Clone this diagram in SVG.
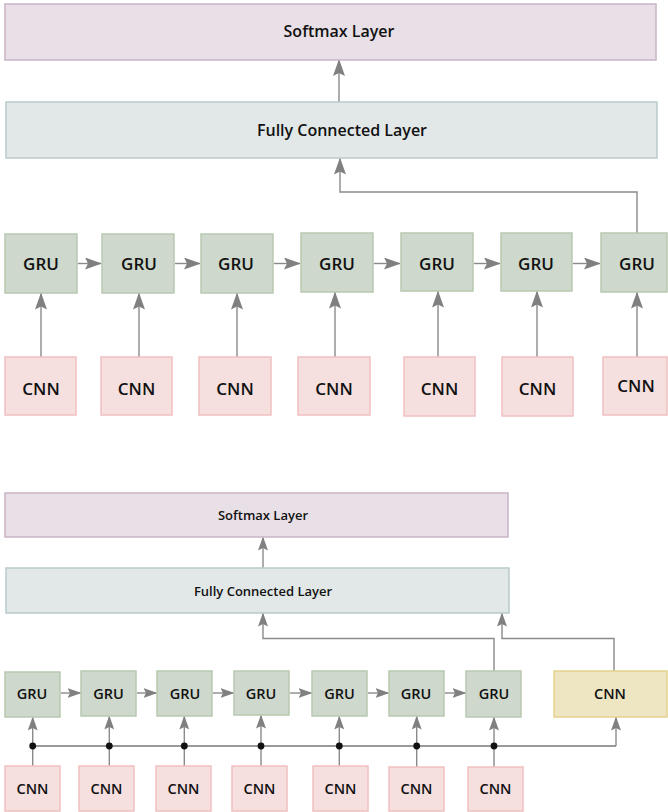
<svg xmlns="http://www.w3.org/2000/svg" width="668" height="812" viewBox="0 0 668 812">
<style>
text{font-family:"Open Sans","Noto Sans","Liberation Sans",sans-serif;font-weight:600;fill:#111;text-anchor:middle;dominant-baseline:central}
.sm{fill:#e8e0e6;stroke:#c9b4c5;stroke-width:1.5}
.fc{fill:#e2e8e8;stroke:#b9cacc;stroke-width:1.5}
.gru{fill:#cfd8cc;stroke:#b8c9b1;stroke-width:1.5}
.cnn{fill:#f5dfdf;stroke:#f0c0c1;stroke-width:1.5}
.ycnn{fill:#eee6c3;stroke:#e5d28c;stroke-width:1.5}
.t1{font-size:16px}.t2{font-size:17px}.t3{font-size:13px}.t4{font-size:14.5px}
.c{fill:none;stroke:#8a8a8a;stroke-width:1.4}
.a1{marker-end:url(#ah1)}.a2{marker-end:url(#ah2)}
.bus{fill:none;stroke:#777;stroke-width:1.4}
</style>
<defs>
<marker id="ah1" viewBox="0 0 17 12" refX="16" refY="6" markerWidth="17" markerHeight="12" markerUnits="userSpaceOnUse" orient="auto"><path d="M0,0 L17,6 L0,12 L3,6 z" fill="#808080"/></marker>
<marker id="ah2" viewBox="0 0 14 10" refX="13" refY="5" markerWidth="14" markerHeight="10" markerUnits="userSpaceOnUse" orient="auto"><path d="M0,0 L14,5 L0,10 L2.5,5 z" fill="#808080"/></marker>
</defs>

<g id="connectors">
<path class="c a1" d="M339,102 V60"/>
<path class="c a1" d="M637,233 V192 H340 V158.5"/>
<path class="c a1" d="M78,263.5 H101"/>
<path class="c a1" d="M175,263.5 H200"/>
<path class="c a1" d="M274,263.5 H300"/>
<path class="c a1" d="M374,263.5 H400"/>
<path class="c a1" d="M474,263.5 H500"/>
<path class="c a1" d="M573,263.5 H600"/>
<path class="c a1" d="M41,357 V293.5"/>
<path class="c a1" d="M139,357 V293.5"/>
<path class="c a1" d="M237,357 V293.5"/>
<path class="c a1" d="M335,357 V292.5"/>
<path class="c a1" d="M438,357 V291.5"/>
<path class="c a1" d="M537,357 V291.5"/>
<path class="c a1" d="M637,357 V292.5"/>

<path class="c a2" d="M263,568 V537.5"/>
<path class="c a2" d="M494,671 V638.5 H263 V613.5"/>
<path class="c a2" d="M614,671 V638.5 H502 V613.5"/>
<path class="c a2" d="M61,693 H80.5"/>
<path class="c a2" d="M137,693 H156.5"/>
<path class="c a2" d="M213,693 H233.5"/>
<path class="c a2" d="M290,693 H311.5"/>
<path class="c a2" d="M368,693 H388.5"/>
<path class="c a2" d="M445,693 H465.5"/>
<path class="bus" d="M32.7,746 H616"/>
<path class="c a2" d="M616,746 V717.5"/>
<path class="c a2" d="M32.7,766 V717.5"/>
<path class="c a2" d="M109.3,766 V716.5"/>
<path class="c a2" d="M184.3,766 V716.5"/>
<path class="c a2" d="M261,766 V715.5"/>
<path class="c a2" d="M339.3,766 V716.5"/>
<path class="c a2" d="M416.7,767 V716.5"/>
<path class="c a2" d="M494,767 V717.5"/>
<g fill="#111">
<circle cx="32.7" cy="746" r="3.4"/>
<circle cx="109.3" cy="746" r="3.4"/>
<circle cx="184.3" cy="746" r="3.4"/>
<circle cx="261" cy="746" r="3.4"/>
<circle cx="339.3" cy="746" r="3.4"/>
<circle cx="416.7" cy="746" r="3.4"/>
<circle cx="494" cy="746" r="3.4"/>
</g>
</g>

<g id="softmax1"><rect class="sm" x="5" y="4" width="651" height="56"/><text class="t1" x="339" y="31">Softmax Layer</text></g>
<g id="fc1"><rect class="fc" x="6" y="102" width="651" height="56"/><text class="t1" x="342" y="130">Fully Connected Layer</text></g>

<g id="gru1"><rect class="gru" x="5" y="234" width="72" height="59"/><text class="t2" x="41" y="263.5">GRU</text></g>
<g id="gru2"><rect class="gru" x="102" y="234" width="72" height="59"/><text class="t2" x="139" y="263.5">GRU</text></g>
<g id="gru3"><rect class="gru" x="201" y="234" width="72" height="59"/><text class="t2" x="236" y="263.5">GRU</text></g>
<g id="gru4"><rect class="gru" x="301" y="233" width="72" height="59"/><text class="t2" x="337" y="263">GRU</text></g>
<g id="gru5"><rect class="gru" x="401" y="233" width="72" height="58"/><text class="t2" x="437" y="263">GRU</text></g>
<g id="gru6"><rect class="gru" x="501" y="233" width="71" height="58"/><text class="t2" x="536" y="263">GRU</text></g>
<g id="gru7"><rect class="gru" x="601" y="233" width="66" height="59"/><text class="t2" x="637" y="263">GRU</text></g>

<g id="cnn1"><rect class="cnn" x="5" y="357" width="71" height="58"/><text class="t2" x="41" y="388">CNN</text></g>
<g id="cnn2"><rect class="cnn" x="101" y="357" width="71" height="58"/><text class="t2" x="136.5" y="388">CNN</text></g>
<g id="cnn3"><rect class="cnn" x="199" y="357" width="72" height="58"/><text class="t2" x="235" y="388">CNN</text></g>
<g id="cnn4"><rect class="cnn" x="298" y="357" width="72" height="58"/><text class="t2" x="334" y="388">CNN</text></g>
<g id="cnn5"><rect class="cnn" x="404" y="357" width="71" height="59"/><text class="t2" x="439.5" y="388">CNN</text></g>
<g id="cnn6"><rect class="cnn" x="502" y="357" width="71" height="59"/><text class="t2" x="537.5" y="388">CNN</text></g>
<g id="cnn7"><rect class="cnn" x="603" y="357" width="64" height="58"/><text class="t2" x="636" y="385">CNN</text></g>

<g id="softmax2"><rect class="sm" x="5" y="493" width="503" height="44"/><text class="t3" x="263" y="514.5">Softmax Layer</text></g>
<g id="fc2"><rect class="fc" x="6" y="568" width="503" height="45"/><text class="t3" x="263" y="590.5">Fully Connected Layer</text></g>

<g id="bgru1"><rect class="gru" x="5" y="672" width="55" height="45"/><text class="t4" x="32" y="693.5">GRU</text></g>
<g id="bgru2"><rect class="gru" x="81" y="671" width="55" height="45"/><text class="t4" x="108.5" y="693">GRU</text></g>
<g id="bgru3"><rect class="gru" x="157" y="671" width="55" height="45"/><text class="t4" x="185" y="693">GRU</text></g>
<g id="bgru4"><rect class="gru" x="234" y="671" width="55" height="44"/><text class="t4" x="261" y="693">GRU</text></g>
<g id="bgru5"><rect class="gru" x="312" y="671" width="55" height="45"/><text class="t4" x="339.5" y="693">GRU</text></g>
<g id="bgru6"><rect class="gru" x="389" y="671" width="55" height="45"/><text class="t4" x="416" y="693">GRU</text></g>
<g id="bgru7"><rect class="gru" x="466" y="671" width="55" height="46"/><text class="t4" x="494" y="693">GRU</text></g>
<g id="bcnn8"><rect class="ycnn" x="554" y="671" width="113" height="46"/><text class="t4" x="610" y="693">CNN</text></g>

<g id="bcnn1"><rect class="cnn" x="5" y="766" width="55" height="45"/><text class="t4" x="32.5" y="788.5">CNN</text></g>
<g id="bcnn2"><rect class="cnn" x="79" y="766" width="55" height="45"/><text class="t4" x="106.5" y="788.5">CNN</text></g>
<g id="bcnn3"><rect class="cnn" x="156" y="766" width="55" height="45"/><text class="t4" x="183.5" y="788.5">CNN</text></g>
<g id="bcnn4"><rect class="cnn" x="232" y="766" width="55" height="45"/><text class="t4" x="259.5" y="788.5">CNN</text></g>
<g id="bcnn5"><rect class="cnn" x="313" y="766" width="55" height="45"/><text class="t4" x="340.5" y="788.5">CNN</text></g>
<g id="bcnn6"><rect class="cnn" x="389" y="767" width="55" height="44"/><text class="t4" x="416.5" y="788.5">CNN</text></g>
<g id="bcnn7"><rect class="cnn" x="468" y="767" width="55" height="44"/><text class="t4" x="495.5" y="788.5">CNN</text></g>
</svg>
